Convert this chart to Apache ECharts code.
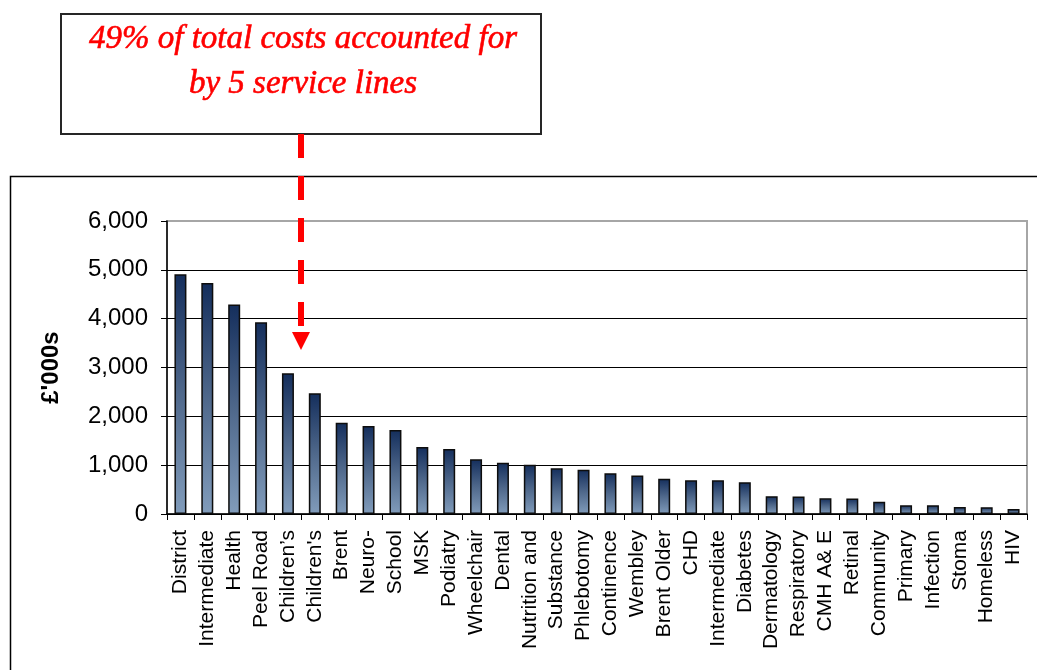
<!DOCTYPE html>
<html>
<head>
<meta charset="utf-8">
<title>Service line costs</title>
<script src="https://cdn.jsdelivr.net/npm/echarts@6/dist/echarts.min.js"></script>
<style>
  html, body { margin: 0; padding: 0; background: #ffffff; }
  #chart { width: 1037px; height: 670px; }
</style>
</head>
<body>
<div id="chart"></div>
<script>
// Service lines, ordered by cost
const categories = [
  'District', 'Intermediate', 'Health', 'Peel Road', 'Children\u2019s', "Children's",
  'Brent', 'Neuro-', 'School', 'MSK', 'Podiatry', 'Wheelchair', 'Dental',
  'Nutrition and', 'Substance', 'Phlebotomy', 'Continence', 'Wembley',
  'Brent Older', 'CHD', 'Intermediate', 'Diabetes', 'Dermatology',
  'Respiratory', 'CMH A& E', 'Retinal', 'Community', 'Primary', 'Infection',
  'Stoma', 'Homeless', 'HIV'
];

// Cost per service line, £'000s
const costs = [
  4910, 4730, 4290, 3925, 2880, 2475,
  1870, 1800, 1720, 1370, 1330, 1120, 1050,
  1010, 935, 905, 835, 790,
  720, 690, 690, 650, 365,
  360, 320, 318, 250, 180, 180,
  143, 140, 102
];

// Value axis ticks
const yTicks = [0, 1000, 2000, 3000, 4000, 5000, 6000];
const yAxisTitle = "\u00a3'000s";

// Callout text
const calloutLines = ['49% of total costs accounted for', 'by 5 service lines'];

const chart = echarts.init(document.getElementById('chart'), null, { renderer: 'canvas' });

const calloutFont = 'italic 33px "Liberation Serif", "DejaVu Serif", serif';

const option = {
  backgroundColor: '#ffffff',
  animation: false,
  grid: {
    left: 167,
    right: 10,
    top: 221,
    bottom: 156,
    show: true,
    borderColor: '#a6a6a6',
    borderWidth: 2,
    backgroundColor: '#ffffff'
  },
  xAxis: {
    type: 'category',
    data: categories,
    axisLine: { show: true, lineStyle: { color: '#000000', width: 1.5 } },
    axisTick: { show: true, alignWithLabel: false, length: 6, lineStyle: { color: '#000000', width: 1 } },
    axisLabel: {
      interval: 0,
      rotate: 90,
      margin: 16,
      color: '#000000',
      fontFamily: 'Liberation Sans, Arial, sans-serif',
      fontSize: 21
    }
  },
  yAxis: {
    type: 'value',
    min: yTicks[0],
    max: yTicks[yTicks.length - 1],
    interval: yTicks[1] - yTicks[0],
    name: yAxisTitle,
    nameLocation: 'middle',
    nameRotate: 90,
    nameGap: 104,
    nameTextStyle: {
      color: '#000000',
      fontFamily: 'Liberation Sans, Arial, sans-serif',
      fontSize: 24,
      fontWeight: 'bold'
    },
    axisLine: { show: true, lineStyle: { color: '#000000', width: 1.5 } },
    axisTick: { show: true, inside: false, length: 6, lineStyle: { color: '#000000', width: 1 } },
    axisLabel: {
      margin: 19,
      color: '#000000',
      fontFamily: 'Liberation Sans, Arial, sans-serif',
      fontSize: 24,
      formatter: v => v.toLocaleString('en-GB')
    },
    splitLine: {
      show: true,
      showMaxLine: false,
      lineStyle: { color: '#000000', width: 1 }
    }
  },
  series: [{
    type: 'bar',
    data: costs,
    barWidth: 12,
    itemStyle: {
      borderColor: '#0d0d0d',
      borderWidth: 1.5,
      color: {
        type: 'linear', x: 0, y: 0, x2: 0, y2: 1,
        colorStops: [
          { offset: 0, color: '#142e5c' },
          { offset: 0.5, color: '#4f688b' },
          { offset: 1, color: '#819cbb' }
        ]
      }
    }
  }],
  graphic: [
    // outer frame of the chart panel
    {
      type: 'rect',
      z: -10,
      shape: { x: 10.5, y: 176.5, width: 1040, height: 520 },
      style: { fill: null, stroke: '#000000', lineWidth: 1.5 }
    },
    // callout box
    {
      type: 'rect',
      shape: { x: 61, y: 14, width: 480, height: 120 },
      style: { fill: '#ffffff', stroke: '#262626', lineWidth: 2 }
    },
    {
      type: 'text',
      x: 303,
      y: 56,
      style: {
        text: calloutLines[0],
        fill: '#ff0000',
        stroke: '#ff0000',
        lineWidth: 0.6,
        font: calloutFont,
        textAlign: 'center',
        textVerticalAlign: 'bottom'
      }
    },
    {
      type: 'text',
      x: 303,
      y: 101,
      style: {
        text: calloutLines[1],
        fill: '#ff0000',
        stroke: '#ff0000',
        lineWidth: 0.6,
        font: calloutFont,
        textAlign: 'center',
        textVerticalAlign: 'bottom'
      }
    },
    // dashed pointer from the callout down into the plot
    {
      type: 'line',
      z: 100,
      shape: { x1: 301, y1: 134, x2: 301, y2: 327 },
      style: { stroke: '#ff0000', lineWidth: 6, lineDash: [24, 18] }
    },
    {
      type: 'polygon',
      z: 100,
      shape: { points: [[292, 332], [310, 332], [301, 350]] },
      style: { fill: '#ff0000' }
    }
  ]
};

chart.setOption(option);
</script>
</body>
</html>
